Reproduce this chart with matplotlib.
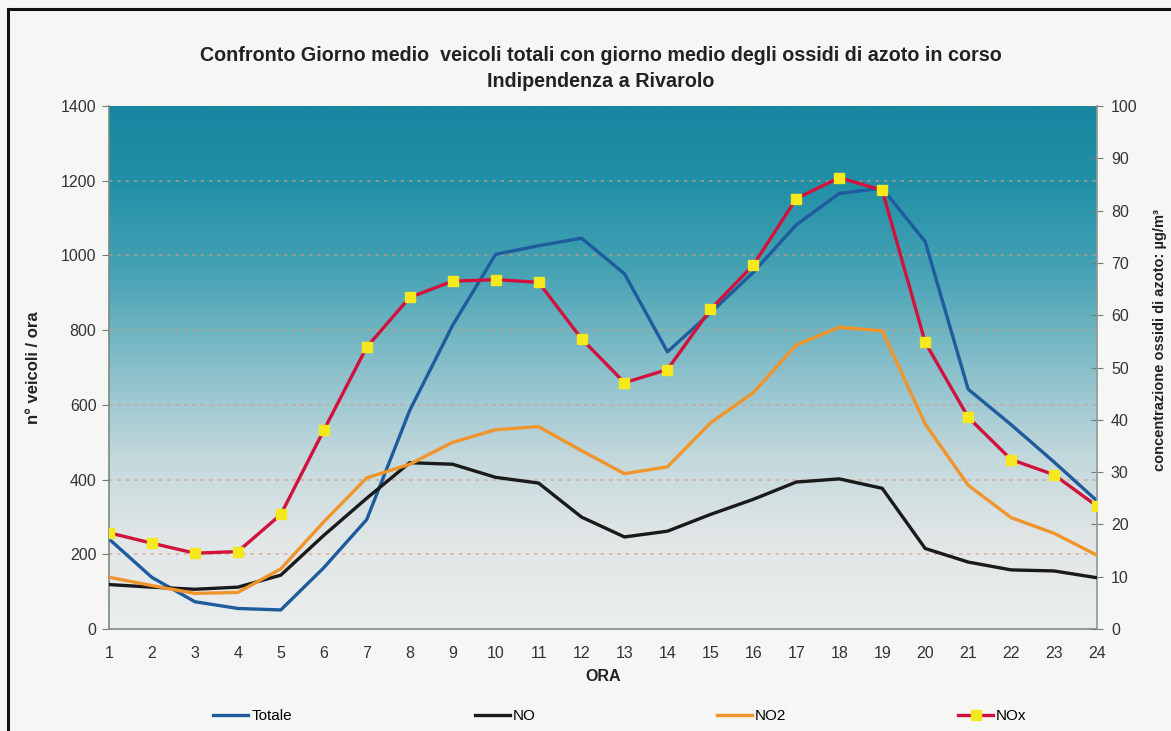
import numpy as np
import matplotlib
matplotlib.use("Agg")
import matplotlib.pyplot as plt
from matplotlib.colors import LinearSegmentedColormap
from matplotlib.lines import Line2D

plt.rcParams['font.family'] = ['Liberation Sans', 'DejaVu Sans']

# ---- data ----
ore = list(range(1, 25))
totale = [241, 138, 73, 55, 51, 164, 293, 585, 813, 1003, 1026, 1046,
          951, 742, 846, 955, 1082, 1166, 1180, 1037, 642, 547, 447, 343]
no = [8.5, 8.0, 7.6, 8.0, 10.3, 17.9, 25.0, 31.8, 31.5, 29.0, 27.9, 21.4,
      17.6, 18.7, 21.9, 24.8, 28.1, 28.7, 26.9, 15.4, 12.8, 11.3, 11.1, 9.8]
no2 = [9.9, 8.3, 6.8, 7.0, 11.5, 20.5, 28.9, 31.5, 35.7, 38.1, 38.7, 34.1,
       29.7, 31.0, 39.4, 45.2, 54.3, 57.7, 57.0, 39.2, 27.5, 21.3, 18.3, 14.1]
nox = [18.4, 16.4, 14.5, 14.8, 21.9, 38.0, 53.9, 63.4, 66.5, 66.8, 66.3, 55.5,
       47.1, 49.6, 61.1, 69.6, 82.3, 86.3, 83.9, 54.8, 40.5, 32.4, 29.5, 23.5]
left_ticks = [0, 200, 400, 600, 800, 1000, 1200, 1400]
right_ticks = list(range(0, 101, 10))
series_names = ['Totale', 'NO', 'NO2', 'NOx']

title = ("Confronto Giorno medio  veicoli totali con giorno medio degli ossidi di azoto in corso\n"
         "Indipendenza a Rivarolo")

W, H = 1171, 731
fig = plt.figure(figsize=(W / 100, H / 100), dpi=100)
fig.patch.set_facecolor('#f6f6f4')

ax = fig.add_axes([109 / W, (H - 629) / H, 988 / W, 523 / H])
ax.set_zorder(1)

# gradient background
cmap = LinearSegmentedColormap.from_list('bg', [
    (0.0, '#eceeee'), (0.18, '#e0e5e6'), (0.33, '#c2d8dc'), (0.5, '#88bfca'),
    (0.68, '#48a3b5'), (0.85, '#2190a7'), (1.0, '#1786a0')])
grad = np.linspace(0, 1, 256).reshape(-1, 1)
ax.imshow(grad, aspect='auto', cmap=cmap, origin='lower',
          extent=[0, 1, 0, 1], transform=ax.transAxes, zorder=0)

ax.set_xlim(1, 24)
ax.set_ylim(0, 1400)
for v in left_ticks[1:-1]:
    ax.axhline(v, color='#d69c80', lw=1.2, ls=(0, (2, 3)), alpha=0.7, zorder=1)

ax.plot(ore, totale, color='#1e5c9e', lw=2.4, zorder=3)

ax.set_yticks(left_ticks)
ax.set_xticks(ore)
ax.tick_params(axis='y', direction='out', length=5, color='#6f7f75',
               labelsize=11.5, labelcolor='#333333', pad=4)
ax.tick_params(axis='x', length=0, labelsize=11.5, labelcolor='#333333', pad=12)
for s in ['left', 'bottom']:
    ax.spines[s].set_color('#7a8a80')
    ax.spines[s].set_linewidth(1.2)
ax.spines['top'].set_visible(False)
ax.spines['right'].set_visible(False)

ax.set_xlabel('ORA', fontsize=11.5, fontweight='bold', color='#222222', labelpad=6)
ax.set_ylabel('n° veicoli / ora', fontsize=12, fontweight='bold', color='#222222', labelpad=14)

ax2 = ax.twinx()
ax2.set_ylim(0, 100)
ax2.set_yticks(right_ticks)
ax2.plot(ore, no, color='#1a1a1a', lw=2.4, zorder=3)
ax2.plot(ore, no2, color='#f0952c', lw=2.4, zorder=3)
ax2.plot(ore, nox, color='#d2123c', lw=2.4, marker='s', markersize=6.5,
         markerfacecolor='#f5e81c', markeredgecolor='#f5e81c', zorder=4)
ax2.tick_params(axis='y', direction='inout', length=8, color='#6f7f75',
                labelsize=11.5, labelcolor='#333333', pad=6)
for s in ['left', 'bottom', 'top']:
    ax2.spines[s].set_visible(False)
ax2.spines['right'].set_color('#8a9a90')
ax2.spines['right'].set_linewidth(1.2)
ax2.set_ylabel('concentrazione ossidi di azoto: µg/m³', fontsize=10.5,
               fontweight='bold', color='#222222')
ax2.yaxis.set_label_coords((1153 - 109) / 988, (629 - 340) / 523)

fig.text(601 / W, 1 - 68.5 / H, title, ha='center', va='center', fontsize=14.2,
         fontweight='bold', color='#222222', linespacing=1.45)

handles = [Line2D([], [], color='#1e5c9e', lw=2.4),
           Line2D([], [], color='#1a1a1a', lw=2.4),
           Line2D([], [], color='#f0952c', lw=2.4),
           Line2D([], [], color='#d2123c', lw=2.4, marker='s', markersize=6.5,
                  markerfacecolor='#f5e81c', markeredgecolor='#f5e81c')]
leg_x = [213, 475, 717, 958]
for h, lab, xp in zip(handles, series_names, leg_x):
    lg = fig.legend([h], [lab], loc='center left',
                    bbox_to_anchor=(xp / W, 1 - 716 / H),
                    frameon=False, fontsize=11, handlelength=2.3, handletextpad=0.2,
                    borderpad=0, borderaxespad=0, numpoints=1)

# scanned page frame
fig.add_artist(Line2D([8 / W, 8 / W], [0, 1 - 9 / H], transform=fig.transFigure,
                      color='#111111', lw=2.2))
fig.add_artist(Line2D([8 / W, 1], [1 - 9 / H, 1 - 9 / H], transform=fig.transFigure,
                      color='#111111', lw=2.2))

fig.savefig('out.png', dpi=100, facecolor=fig.get_facecolor())
